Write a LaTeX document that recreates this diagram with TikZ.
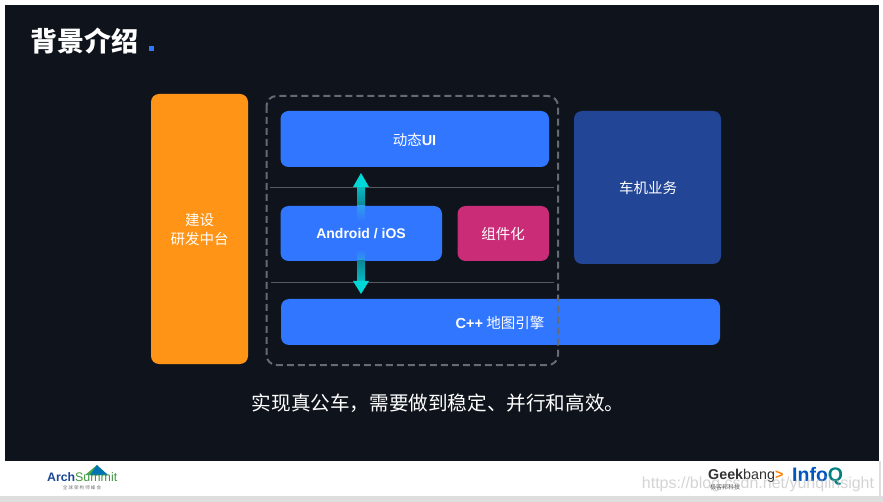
\documentclass[tikz,border=0pt]{standalone}
\usepackage{fontspec}
\setmainfont{Noto Sans CJK SC}
\newfontfamily\latinf{Liberation Sans}
\definecolor{slidebg}{HTML}{0F141C}
\definecolor{blk}{HTML}{3176FF}
\definecolor{orangeb}{HTML}{FF9416}
\definecolor{navyb}{HTML}{224695}
\definecolor{pinkb}{HTML}{CA2C78}
\definecolor{tealh}{HTML}{00D8D8}
\definecolor{dashc}{HTML}{666B73}
\definecolor{linec}{HTML}{565B62}
\definecolor{tealhi}{HTML}{05BDC4}
\definecolor{tealmid}{HTML}{0D8796}
\definecolor{blueteal}{HTML}{2F9CEC}
\tikzset{
 x=1pt,y=-1pt,
 box/.style={rounded corners=8pt,fill=blk,draw=none},
 lab/.style={text=white,font=\fontsize{14.5}{16}\selectfont,inner sep=0pt},
 sep/.style={draw=linec,line width=0.9pt},
}
\begin{document}
\begin{tikzpicture}
\useasboundingbox (0,0) rectangle (883,502);
\fill[white] (0,0) rectangle (883,502);
\fill[slidebg] (5,5) rectangle (879,461);
\fill[black!13] (0,496) rectangle (883,502);
\fill[black!13] (879,461) rectangle (880.5,502);
% title
\node[anchor=west,text=white,inner sep=0pt,font=\fontsize{27}{30}\selectfont\bfseries] (title) at (30,41) {背景介绍};
\fill[blk] (149,46.5) rectangle (154,51);
% boxes
\path[fill=orangeb,rounded corners=8pt] (151,94) rectangle (248,364);
\node[lab,align=center] (zt) at (199.5,230) {建设\\[3pt]研发中台};
\path[fill=navyb,rounded corners=8pt] (574,111) rectangle (721,264);
\node[lab] (cj) at (648,188) {车机业务};
\path[box] (280.5,111) rectangle (549,167);
\node[lab] (dt) at (414.5,140) {动态\textbf{\latinf UI}};
\path[box] (280.5,206) rectangle (442,261);
\path[fill=pinkb,rounded corners=8pt] (457.5,206) rectangle (549,261);
\node[lab] (zj) at (503,234) {组件化};
\path[box] (281,299) rectangle (720,345);
\node[lab] (cpp) at (500,323) {\textbf{\latinf C++} 地图引擎};
% separators
\coordinate (l1a) at (270,187.5); \coordinate (l1b) at (554,187.5);
\coordinate (l2a) at (271,282.5); \coordinate (l2b) at (554,282.5);
\draw[sep] (l1a)--(l1b);
\draw[sep] (l2a)--(l2b);
% arrows
\shade[top color=tealhi,bottom color=tealmid] (357,186) rectangle (365,206);
\shade[top color=blueteal,bottom color=blk] (357,206) rectangle (365,220);
\shade[top color=blk,bottom color=blueteal] (357,249) rectangle (365,261);
\shade[top color=tealmid,bottom color=tealhi] (357,261) rectangle (365,282);
\fill[tealh] (361,173)--(369,187)--(353,187)--cycle;
\fill[tealh] (361,294)--(369,281)--(353,281)--cycle;
\node[text=white,inner sep=0pt,font=\fontsize{14}{16}\selectfont\bfseries\latinf] (an) at (361,234) {Android / iOS};
% dashed frame
\draw[dashc,line width=2pt,dash pattern=on 7pt off 4pt,rounded corners=10pt] (266.5,96) rectangle (558,365);
% caption
\node[text=white,inner sep=0pt,font=\fontsize{19.6}{22}\selectfont] (cap) at (438,403) {实现真公车，需要做到稳定、并行和高效。};
% footer logos
\fill[green!50!black!70] (97,465)--(101,475)--(85,475)--cycle;
\fill[blue!35!cyan!70!black] (97,465)--(108,475)--(90,475)--cycle;
\node[anchor=west,inner sep=0pt,font=\fontsize{12.3}{14}\selectfont\bfseries\latinf,text=blk!60!black] (arch) at (47,477.5) {Arch};
\node[anchor=west,inner sep=0pt,font=\fontsize{12.4}{14}\selectfont\latinf,text=green!45!black!75] (summit) at (75,477.5) {Summit};
\node[inner sep=0pt,font=\fontsize{4.6}{5}\selectfont,text=black!55] (qq) at (82,488) {全 球 架 构 师 峰 会};
\node[anchor=west,inner sep=0pt,font=\fontsize{14.3}{16}\selectfont\latinf,text=black!80] (gk) at (708,475.5) {\textbf{Geek}bang\textcolor{orange}{\textbf{>}}};
\node[anchor=west,inner sep=0pt,font=\fontsize{6}{6}\selectfont,text=black!70] (gkc) at (710,487) {极客邦科技};
\node[anchor=west,inner sep=0pt,font=\fontsize{19.5}{20}\selectfont\bfseries\latinf,text=blue!55!cyan!75!black] (iq) at (792,476) {Info\textcolor{teal}{Q}};
\node[inner sep=0pt,font=\fontsize{16}{18}\selectfont\latinf,text=black!30,text opacity=0.55] (wm) at (758,484) {https://blog.csdn.net/yunqiinsight};
\end{tikzpicture}
\end{document}
